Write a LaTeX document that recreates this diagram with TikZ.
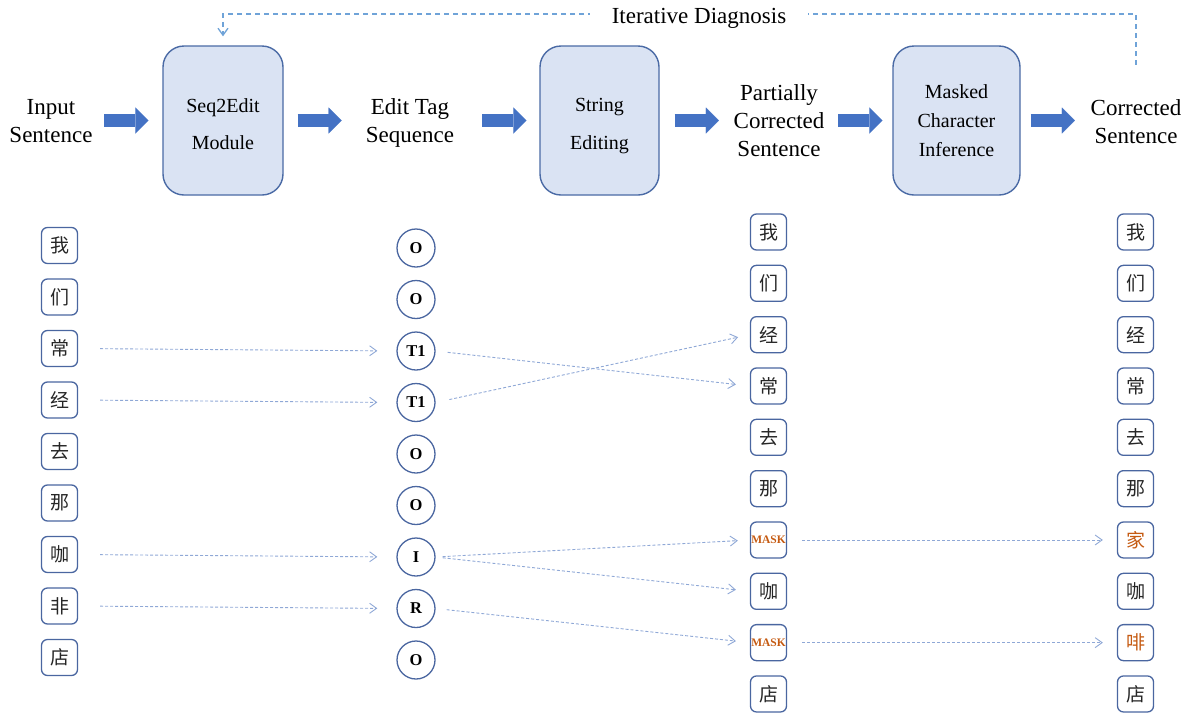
\documentclass[tikz,border=0pt]{standalone}
\usepackage{fontspec}
\setmainfont{Liberation Serif}
\newfontfamily\cjk{Noto Sans CJK SC}
\usetikzlibrary{arrows.meta}
\definecolor{boxblue}{HTML}{4A6AA5}
\definecolor{boxfill}{HTML}{DAE3F3}
\definecolor{arrowblue}{HTML}{4472C4}
\definecolor{charblue}{HTML}{4A66A0}
\definecolor{dlinkc}{HTML}{8FA8D6}
\definecolor{loopc}{HTML}{6FA3D8}
\definecolor{maskorange}{HTML}{C55A11}
\newcommand\maskt{\textcolor{maskorange}{\rmfamily\bfseries\fontsize{11.5}{11.5}\selectfont MASK}}
\tikzset{
  lbl/.style={font=\fontsize{23}{28}\selectfont, align=center, inner sep=0pt, text=black},
  procbox/.style={draw=boxblue, fill=boxfill, rounded corners=21pt, line width=1.4pt,
    minimum height=149pt, align=center, inner sep=0pt},
  blk/.style={draw=arrowblue, line width=13pt, -{Triangle[length=13pt,width=26pt,line width=0.01pt]}},
  chbox/.style={draw=charblue, rounded corners=6pt, line width=1.3pt, minimum size=36pt,
    inner sep=0pt, font=\cjk\fontsize{19}{19}\selectfont, text=black!85},
  tagc/.style={circle, draw=charblue, line width=1.3pt, minimum size=38pt, inner sep=0pt,
    font=\bfseries\fontsize{16.5}{16.5}\selectfont},
  dlink/.style={draw=dlinkc, line width=0.9pt, dash pattern=on 3pt off 2pt,
    -{Straight Barb[length=7pt,width=10pt]}},
  loopline/.style={draw=loopc, line width=1.3pt, dash pattern=on 5pt off 4pt,
    -{Straight Barb[length=7pt,width=10pt]}}
}
\begin{document}
\begin{tikzpicture}[x=1pt,y=-1pt]
\useasboundingbox (0,0) rectangle (1195,713);

% top row
\node[lbl] (in) at (51,121.4) {Input\\Sentence};
\node[procbox, minimum width=120pt, font=\fontsize{20}{37}\selectfont] (seq) at (223,120.5)
  {\rule{0pt}{21pt}Seq2Edit\\Module};
\node[lbl] (ets) at (410,123) {Edit Tag\\Sequence};
\node[procbox, minimum width=119pt, font=\fontsize{20}{38}\selectfont] (str) at (599.5,120.5)
  {\rule{0pt}{24pt}String\\Editing};
\node[lbl] (pcs) at (779,120.7) {Partially\\Corrected\\Sentence};
\node[procbox, minimum width=127pt, font=\fontsize{20}{29}\selectfont] (mci) at (956.5,120.5)
  {Masked\\Character\\Inference};
\node[lbl] (cs) at (1136,121.2) {Corrected\\Sentence};

\draw[blk, shorten <=11.5pt, shorten >=14pt] (in.east |- seq.west) -- (seq.west);
\draw[blk, shorten <=14pt, shorten >=24pt] (seq.east) -- (seq.east -| ets.west);
\draw[blk, shorten <=28pt, shorten >=13pt] (ets.east |- str.west) -- (str.west);
\draw[blk, shorten <=15pt, shorten >=14.5pt] (str.east) -- (str.east -| pcs.west);
\draw[blk, shorten <=13.5pt, shorten >=10pt] (pcs.east |- mci.west) -- (mci.west);
\draw[blk, shorten <=10pt, shorten >=15.5pt] (mci.east) -- (mci.east -| cs.west);

% iterative loop
\coordinate (loopstart) at ([yshift=34pt]cs.north);
\draw[loopline] (loopstart) -- ++(0,-51) -| ([yshift=9pt]seq.north);
\node[lbl, fill=white, inner xsep=22pt] (iter) at (699,17.9) {Iterative Diagnosis};

% input characters
\foreach \c [count=\i] in {我,们,常,经,去,那,咖,非,店}
  \node[chbox] (a\i) at (59.5,{245.5+51.5*(\i-1)}) {\c};

% tags
\foreach \t [count=\i] in {O,O,T1,T1,O,O,I,R,O}
  \node[tagc] (t\i) at (416,{248+51.5*(\i-1)}) {\t};

% partially corrected
\foreach \c [count=\i] in {我,们,经,常,去,那,\maskt,咖,\maskt,店}
  \node[chbox] (m\i) at (768.5,{232+51.33*(\i-1)}) {\c};

% corrected
\foreach \c [count=\i] in {我,们,经,常,去,那,\textcolor{maskorange}{家},咖,\textcolor{maskorange}{啡},店}
  \node[chbox] (r\i) at (1135.5,{232+51.33*(\i-1)}) {\c};

% links input -> tags
\draw[dlink, shorten <=22pt, shorten >=19pt] (a3.east) -- (t3.west);
\draw[dlink, shorten <=22pt, shorten >=19pt] (a4.east) -- (t4.west);
\draw[dlink, shorten <=22pt, shorten >=19pt] (a7.east) -- (t7.west);
\draw[dlink, shorten <=22pt, shorten >=19pt] (a8.east) -- (t8.west);

% links tags -> partially corrected
\draw[dlink, shorten <=12pt, shorten >=14pt] (t3.east) -- (m4.west);
\draw[dlink, shorten <=14pt, shorten >=12pt] (t4.east) -- (m3.west);
\draw[dlink, shorten <=7pt, shorten >=12pt] (t7.east) -- (m7.west);
\draw[dlink, shorten <=7pt, shorten >=14pt] (t7.east) -- (m8.west);
\draw[dlink, shorten <=11pt, shorten >=14pt] (t8.east) -- (m9.west);

% links mask -> corrected
\draw[dlink, shorten <=15pt, shorten >=14pt] (m7.east) -- (r7.west);
\draw[dlink, shorten <=15pt, shorten >=14pt] (m9.east) -- (r9.west);
\end{tikzpicture}
\end{document}
